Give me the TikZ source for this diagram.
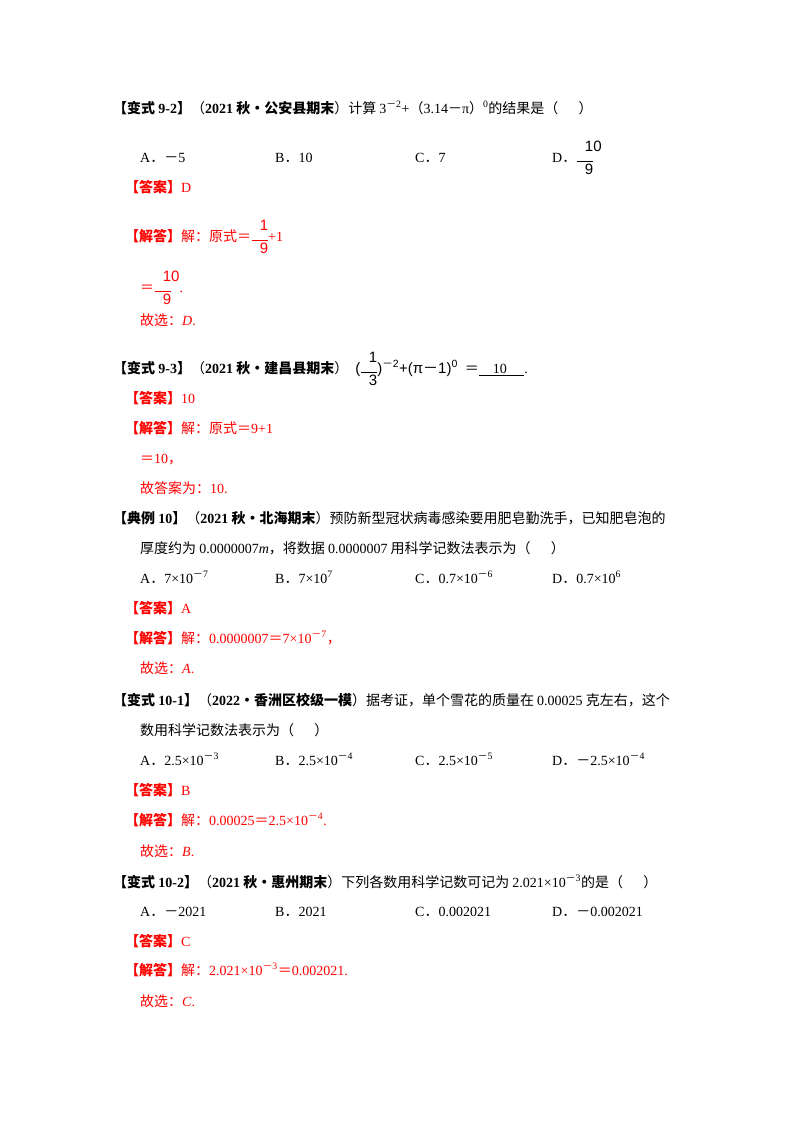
\documentclass[tikz,border=0pt]{standalone}
\usepackage{amsmath}
\usepackage{fontspec}
\setmainfont{Liberation Serif}
\newfontfamily\zhf{Noto Sans CJK SC}
\newfontfamily\sff{Liberation Sans}
\newcommand{\zh}[1]{{\zhf #1}}
\newcommand{\zb}[1]{{\zhf\bfseries #1}}
\newcommand{\mn}{{\zhf －}}
\newcommand{\dt}{{\zhf ．}}
\newcommand{\fr}[2]{\raisebox{-0.1\height}{\tikz[baseline,x=1pt,y=1pt]{\node[inner sep=0pt,font=\sff\fontsize{15}{15}\selectfont] (n) at (0,13) {#1};\draw[line width=0.9pt] (-8,3) -- (8,3);\node[inner sep=0pt,font=\sff\fontsize{15}{15}\selectfont] (d) at (0,-10) {#2};}}}
\begin{document}
\begin{tikzpicture}[x=1pt,y=-1pt,
  t/.style={anchor=base west,inner sep=0pt,font=\fontsize{14}{17}\selectfont},
  r/.style={t,text=red}]
\useasboundingbox (0,0) rectangle (800,1132);
\fill[white] (0,0) rectangle (800,1132);
% 9-2
\node[t] (a1) at (113,113) {\zb{【变式 }\textbf{9-2}\zb{】}\zh{（}\textbf{2021}\zb{ 秋•公安县期末}\zh{）计算 }3\textsuperscript{\mn 2}+\zh{（}3.14\mn π\zh{）}\textsuperscript{0}\zh{的结果是（\quad\ \ ）}};
\node[t] (a2) at (140,162) {A\dt\mn 5};
\node[t] (a3) at (275,162) {B\dt 10};
\node[t] (a4) at (415,162) {C\dt 7};
\node[t] (a5) at (552,162) {D\dt\fr{10}{9}};
\node[r] (a6) at (125,192) {\zb{【答案】}D};
\node[r] (a7) at (125,241) {\zb{【解答】}\zh{解：原式＝}\fr{1}{9}+1};
\node[r] (a8) at (140,292) {\zh{＝}\fr{10}{9}.};
\node[r] (a9) at (140,325) {\zh{故选：}\textit{D}.};
% 9-3
\node[t] (b1) at (113,373) {\zb{【变式 }\textbf{9-3}\zb{】}\zh{（}\textbf{2021}\zb{ 秋•建昌县期末}\zh{）}\ \ {\sff\fontsize{15}{15}\selectfont (\fr{1}{3})\textsuperscript{\mn 2}+(π\mn 1)\textsuperscript{0}}\ \ \zh{＝}\underline{\quad 10\quad\ }.};
\node[r] (b2) at (125,403) {\zb{【答案】}10};
\node[r] (b3) at (125,433) {\zb{【解答】}\zh{解：原式＝}9+1};
\node[r] (b4) at (140,463) {\zh{＝}10\zh{，}};
\node[r] (b5) at (140,493) {\zh{故答案为：}10.};
% 典例10
\node[t] (c1) at (113,523) {\zb{【典例 }\textbf{10}\zb{】}\zh{（}\textbf{2021}\zb{ 秋•北海期末}\zh{）预防新型冠状病毒感染要用肥皂勤洗手，已知肥皂泡的}};
\node[t] (c2) at (140,553) {\zh{厚度约为 }0.0000007\textit{m}\zh{，将数据 }0.0000007\zh{ 用科学记数法表示为（\quad\ \ ）}};
\node[t] (c3) at (140,583) {A\dt 7×10\textsuperscript{\mn 7}};
\node[t] (c4) at (275,583) {B\dt 7×10\textsuperscript{7}};
\node[t] (c5) at (415,583) {C\dt 0.7×10\textsuperscript{\mn 6}};
\node[t] (c6) at (552,583) {D\dt 0.7×10\textsuperscript{6}};
\node[r] (c7) at (125,613) {\zb{【答案】}A};
\node[r] (c8) at (125,643) {\zb{【解答】}\zh{解：}0.0000007\zh{＝}7×10\textsuperscript{\mn 7}\zh{，}};
\node[r] (c9) at (140,673) {\zh{故选：}\textit{A}.};
% 10-1
\node[t] (d1) at (113,705) {\zb{【变式 }\textbf{10-1}\zb{】}\zh{（}\textbf{2022}\zb{•香洲区校级一模}\zh{）据考证，单个雪花的质量在 }0.00025\zh{ 克左右，这个}};
\node[t] (d2) at (140,735) {\zh{数用科学记数法表示为（\quad\ \ ）}};
\node[t] (d3) at (140,765) {A\dt 2.5×10\textsuperscript{\mn 3}};
\node[t] (d4) at (275,765) {B\dt 2.5×10\textsuperscript{\mn 4}};
\node[t] (d5) at (415,765) {C\dt 2.5×10\textsuperscript{\mn 5}};
\node[t] (d6) at (552,765) {D\dt\mn 2.5×10\textsuperscript{\mn 4}};
\node[r] (d7) at (125,795) {\zb{【答案】}B};
\node[r] (d8) at (125,825) {\zb{【解答】}\zh{解：}0.00025\zh{＝}2.5×10\textsuperscript{\mn 4}.};
\node[r] (d9) at (140,856) {\zh{故选：}\textit{B}.};
% 10-2
\node[t] (e1) at (113,887) {\zb{【变式 }\textbf{10-2}\zb{】}\zh{（}\textbf{2021}\zb{ 秋•惠州期末}\zh{）下列各数用科学记数可记为 }2.021×10\textsuperscript{\mn 3}\zh{的是（\quad\ \ ）}};
\node[t] (e2) at (140,916) {A\dt\mn 2021};
\node[t] (e3) at (275,916) {B\dt 2021};
\node[t] (e4) at (415,916) {C\dt 0.002021};
\node[t] (e5) at (552,916) {D\dt\mn 0.002021};
\node[r] (e6) at (125,946) {\zb{【答案】}C};
\node[r] (e7) at (125,975) {\zb{【解答】}\zh{解：}2.021×10\textsuperscript{\mn 3}\zh{＝}0.002021.};
\node[r] (e8) at (140,1006) {\zh{故选：}\textit{C}.};
\end{tikzpicture}
\end{document}
